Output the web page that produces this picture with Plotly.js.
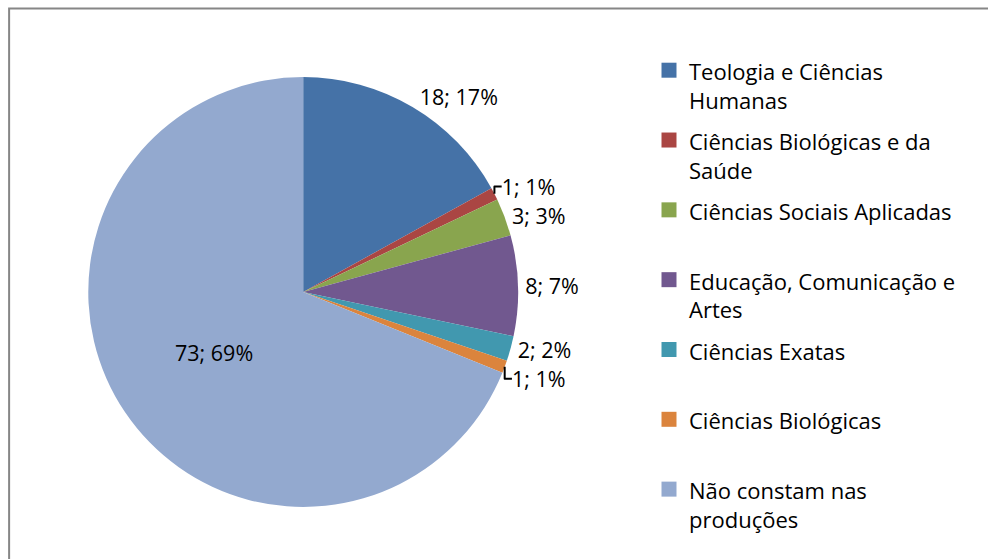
<!DOCTYPE html>
<html>
<head>
<meta charset="utf-8">
<script src="https://cdn.plot.ly/plotly-3.0.1.min.js"></script>
<style>
html,body{margin:0;padding:0;background:#fff;}
#chart{width:988px;height:559px;}
</style>
</head>
<body>
<div id="chart"></div>
<script>
const categories = [
  "Teologia e Ciências<br>Humanas",
  "Ciências Biológicas e da<br>Saúde",
  "Ciências Sociais Aplicadas<br> ",
  "Educação, Comunicação e<br>Artes",
  "Ciências Exatas<br> ",
  "Ciências Biológicas<br> ",
  "Não constam nas<br>produções"
];
const values = [18, 1, 3, 8, 2, 1, 73];
const percentLabels = ["17%", "1%", "3%", "7%", "2%", "1%", "69%"];
const colors = ["#4572A7", "#AA4643", "#89A54E", "#71588F", "#4198AF", "#DB843D", "#93A9CF"];
const textPositions = ["outside", "outside", "outside", "outside", "outside", "outside", "inside"];

const W = 988, H = 559;
const FONT = "'Open Sans', 'Noto Sans', sans-serif";

const trace = {
  type: "pie",
  labels: categories,
  values: values,
  text: percentLabels,
  texttemplate: "%{value}; %{text}",
  textposition: textPositions,
  textfont: {family: FONT, size: 21.5, color: "#000"},
  insidetextorientation: "horizontal",
  sort: false,
  direction: "clockwise",
  rotation: 0,
  marker: {colors: colors, line: {width: 0}},
  hoverinfo: "label+value+percent",
  domain: {
    x: [92 / W, 540 / W],
    y: [(H - 510) / H, (H - 74) / H]
  },
  automargin: false
};

const layout = {
  width: W,
  height: H,
  margin: {l: 0, r: 0, t: 0, b: 0},
  paper_bgcolor: "#fff",
  showlegend: true,
  legend: {
    x: 659 / W,
    y: 1 - 47 / H,
    xanchor: "left",
    yanchor: "top",
    valign: "top",
    font: {family: FONT, size: 25.7, color: "#000"},
    bgcolor: "rgba(0,0,0,0)",
    itemclick: false
  },
  shapes: [{
    type: "rect",
    xref: "paper", yref: "paper",
    x0: 9.5 / W, x1: 1.05,
    y0: -0.05, y1: 1 - 8.5 / H,
    line: {color: "#868686", width: 2},
    fillcolor: "rgba(0,0,0,0)"
  }]
};

Plotly.newPlot("chart", [trace], layout, {displayModeBar: false, staticPlot: true}).then(gd => {
  // keep the legend line pitch of the larger font, draw glyphs at the reference size
  gd.querySelectorAll(".legend .legendtext").forEach(t => { t.style.fontSize = "22px"; });
  // slightly larger legend swatches, as in the reference
  gd.querySelectorAll(".legend .legendpoints path").forEach(p => {
    const t = p.getAttribute("transform") || "";
    p.setAttribute("transform", (t + " scale(1.25)").trim());
  });
  // the legend box was measured with the larger font and clamped to the paper; move it back right
  const lg = gd.querySelector(".legend");
  if (lg) {
    const m = /translate\(\s*([-\d.]+)[ ,]+([-\d.]+)\s*\)/.exec(lg.getAttribute("transform") || "");
    if (m) lg.setAttribute("transform", "translate(" + (parseFloat(m[1]) + 17) + "," + m[2] + ")");
  }
});
</script>
</body>
</html>
